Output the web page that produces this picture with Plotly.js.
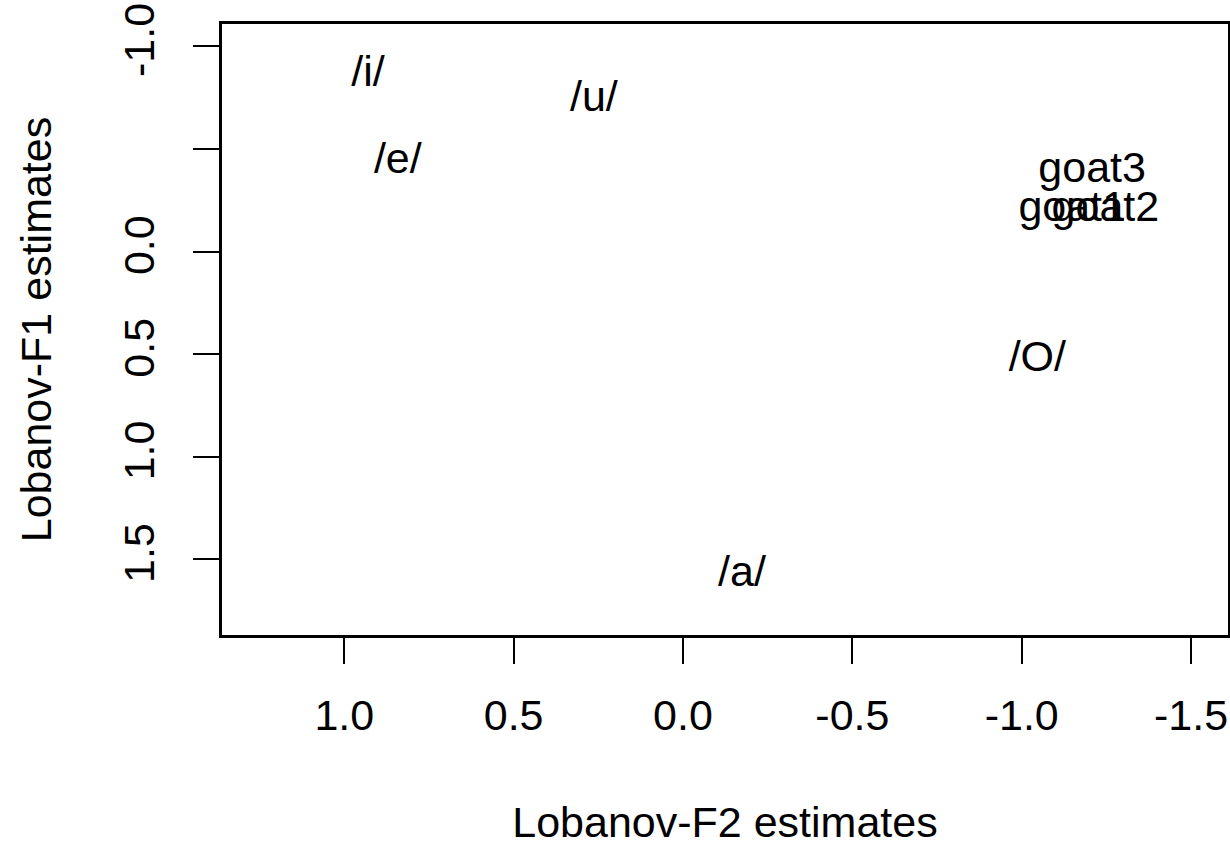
<!DOCTYPE html>
<html>
<head>
<meta charset="utf-8">
<script src="https://cdn.plot.ly/plotly-3.0.1.min.js"></script>
<style>html,body{margin:0;padding:0;background:#fff;}#chart{width:1230px;height:846px;}</style>
</head>
<body>
<div id="chart"></div>
<script>
var labels = ["/i/", "/u/", "/e/", "goat3", "goat1", "goat2", "/O/", "/a/"];
var f2 = [0.930, 0.263, 0.842, -1.208, -1.149, -1.247, -1.046, -0.174];
var f1 = [-0.860, -0.738, -0.436, -0.390, -0.202, -0.202, 0.531, 1.578];
var xTicks = [1.0, 0.5, 0.0, -0.5, -1.0, -1.5];
var xTickText = ["1.0", "0.5", "0.0", "-0.5", "-1.0", "-1.5"];
var yTicks = [-1.0, -0.5, 0.0, 0.5, 1.0, 1.5];
var yTickText = ["-1.0", "", "0.0", "0.5", "1.0", "1.5"];

var FONT = "Liberation Sans, Arial, sans-serif";
var trace = {
  x: f2, y: f1, text: labels, mode: "text", type: "scatter",
  textposition: "middle center",
  textfont: {family: FONT, size: 43, color: "#000"},
  hoverinfo: "skip", showlegend: false, cliponaxis: false
};
var layout = {
  width: 1230, height: 846,
  margin: {l: 222, r: 2, t: 24, b: 211, pad: 0},
  paper_bgcolor: "#fff", plot_bgcolor: "#fff",
  font: {family: FONT, size: 43, color: "#000"},
  showlegend: false,
  xaxis: {
    range: [1.361, -1.609], tickmode: "array", tickvals: xTicks, ticktext: xTickText,
    ticks: "outside", ticklen: 26, tickwidth: 2, tickcolor: "#000",
    showline: true, linewidth: 3, linecolor: "#000", mirror: true,
    showgrid: false, zeroline: false, ticklabelstandoff: 14,
    tickfont: {family: FONT, size: 43, color: "#000"},
    title: {text: "Lobanov-F2 estimates", font: {family: FONT, size: 43, color: "#000"}, standoff: 74},
    automargin: false
  },
  yaxis: {
    range: [1.868, -1.109], tickmode: "array", tickvals: yTicks, ticktext: yTickText,
    ticks: "outside", ticklen: 26, tickwidth: 2, tickcolor: "#000", tickangle: -90,
    showline: true, linewidth: 3, linecolor: "#000", mirror: true,
    showgrid: false, zeroline: false, ticklabelstandoff: 22,
    tickfont: {family: FONT, size: 43, color: "#000"},
    title: {text: "Lobanov-F1 estimates", font: {family: FONT, size: 43, color: "#000"}, standoff: 50},
    automargin: false
  }
};
Plotly.newPlot("chart", [trace], layout, {displayModeBar: false, staticPlot: true});
</script>
</body>
</html>
